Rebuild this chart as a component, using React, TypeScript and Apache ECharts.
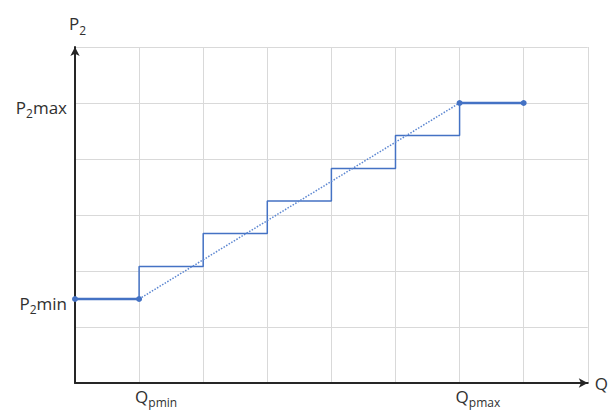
import React, { useEffect, useRef } from "react";
import * as echarts from "echarts";

const stepX = [1, 2, 3, 4, 5, 6];
const levels = [1.5, 2.08, 2.67, 3.25, 3.83, 4.42, 5];
const startSeg = [[0, 1.5], [1, 1.5]];
const endSeg = [[6, 5], [7, 5]];
const diagonal = [[1, 1.5], [6, 5]];
const xLabels: Record<number, string> = { 1: "{m|Q}{s|pmin}", 6: "{m|Q}{s|pmax}" };
const yLabels: Record<number, string> = { 1.5: "{m|P}{s|2}{m|min}", 5: "{m|P}{s|2}{m|max}" };

const BLUE = "#4472C4";
const FONT = "Open Sans";
const TXT = "#303030";
const rich = {
  m: { fontSize: 17, fontFamily: FONT, color: TXT, lineHeight: 20, verticalAlign: "top" },
  s: { fontSize: 12, fontFamily: FONT, color: TXT, lineHeight: 12, verticalAlign: "top", padding: [9, 0, 0, 0] },
};
const richX = {
  m: { fontSize: 17, fontFamily: FONT, color: TXT, lineHeight: 18, verticalAlign: "top" },
  s: { fontSize: 12, fontFamily: FONT, color: TXT, lineHeight: 12, verticalAlign: "top", padding: [8, 0, 0, 0] },
};

export default function App() {
  const ref = useRef<HTMLDivElement>(null);
  useEffect(() => {
    if (!ref.current) return;
    const chart = echarts.init(ref.current, null, { renderer: "svg" });
    const stepData: number[][] = [[stepX[0], levels[0]]];
    for (let i = 0; i < stepX.length; i++) {
      stepData.push([stepX[i], levels[i + 1]]);
      if (i < stepX.length - 1) stepData.push([stepX[i + 1], levels[i + 1]]);
    }
    chart.setOption({
      animation: false,
      grid: { left: 75, right: 19, top: 47, bottom: 27 },
      xAxis: {
        type: "value",
        min: 0,
        max: 8,
        interval: 1,
        name: "Q",
        nameGap: 7,
        nameTextStyle: { fontSize: 17, fontFamily: FONT, color: TXT },
        axisLine: { lineStyle: { color: "#262626", width: 2 }, symbol: ["none", "arrow"], symbolSize: [7, 9] },
        axisTick: { show: false },
        splitLine: { lineStyle: { color: "#d9d9d9", width: 1 } },
        axisLabel: {
          margin: 5,
          align: "left",
          padding: [0, 0, 0, -4],
          formatter: (v: number) => xLabels[v] || "",
          rich: richX,
        },
      },
      yAxis: [
        {
          type: "value",
          min: 0,
          max: 6,
          interval: 1,
          name: "{m|P}{s|2}",
          nameGap: 12,
          nameTextStyle: { rich, align: "left", padding: [0, 0, 0, -6] },
          axisLine: { show: true, lineStyle: { color: "#262626", width: 2 }, symbol: ["none", "arrow"], symbolSize: [7, 9] },
          axisTick: { show: false },
          axisLabel: { show: false },
          splitLine: { lineStyle: { color: "#d9d9d9", width: 1 } },
        },
        {
          type: "value",
          position: "left",
          min: 0,
          max: 6,
          interval: 0.5,
          axisLine: { show: false },
          axisTick: { show: false },
          splitLine: { show: false },
          axisLabel: { margin: 8, padding: [11, 0, 0, 0], formatter: (v: number) => yLabels[v] || "", rich },
        },
      ],
      series: [
        {
          type: "line",
          data: stepData,
          symbol: "none",
          lineStyle: { color: BLUE, width: 1.5 },
        },
        {
          type: "line",
          data: diagonal,
          symbol: "none",
          lineStyle: { color: "#5b86d1", width: 1.5, type: "dotted" },
        },
        {
          type: "line",
          data: startSeg,
          symbol: "circle",
          symbolSize: 6,
          itemStyle: { color: BLUE },
          lineStyle: { color: BLUE, width: 2.5 },
        },
        {
          type: "line",
          data: endSeg,
          symbol: "circle",
          symbolSize: 6,
          itemStyle: { color: BLUE },
          lineStyle: { color: BLUE, width: 2.5 },
        },
      ],
    });
    return () => chart.dispose();
  }, []);
  return <div ref={ref} style={{ width: 611, height: 410, position: "absolute", left: 0, top: 0 }} />;
}
